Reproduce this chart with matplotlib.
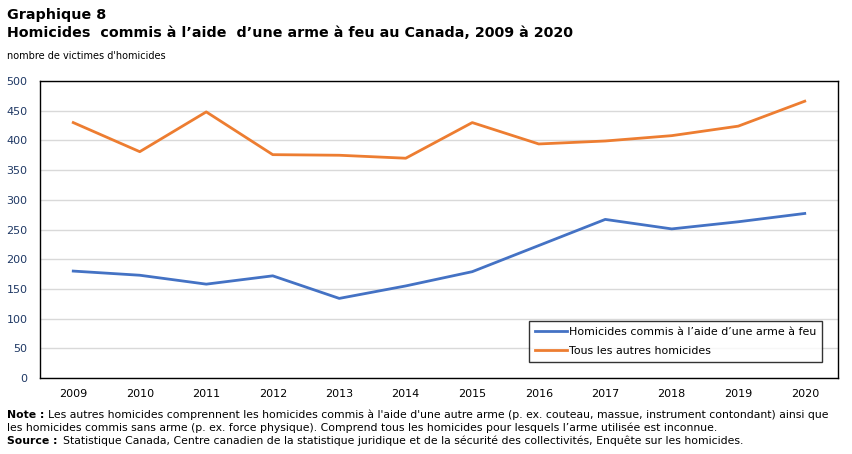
import matplotlib
matplotlib.use("Agg")
import matplotlib.pyplot as plt

# Data
years = ["2009", "2010", "2011", "2012", "2013", "2014",
         "2015", "2016", "2017", "2018", "2019", "2020"]
firearm = [180, 173, 158, 172, 134, 155, 179, 223, 267, 251, 263, 277]
other = [430, 381, 448, 376, 375, 370, 430, 394, 399, 408, 424, 466]
yticks = [0, 50, 100, 150, 200, 250, 300, 350, 400, 450, 500]

label_firearm = "Homicides commis à l\u2019aide d\u2019une arme à feu"
label_other = "Tous les autres homicides"

plt.rcParams["font.family"] = ["DejaVu Sans"]

fig = plt.figure(figsize=(8.52, 4.54), dpi=100)
W, H = 852, 454
ax = fig.add_axes([40 / W, 1 - 378 / H, (838 - 40) / W, (378 - 81) / H])

x = list(range(len(years)))
ax.plot(x, firearm, color="#4472C4", lw=2, label=label_firearm)
ax.plot(x, other, color="#ED7D31", lw=2, label=label_other)

ax.set_xlim(-0.5, len(years) - 0.5)
ax.set_ylim(0, 500)
ax.set_xticks(x)
ax.set_xticklabels(years)
ax.set_yticks(yticks)
ax.tick_params(axis="both", length=0, labelsize=8, colors="#000000")
ax.tick_params(axis="y", pad=9)
ax.tick_params(axis="x", pad=8)
for lbl in ax.get_yticklabels():
    lbl.set_color("#1F3864")
ax.grid(axis="y", color="#D9D9D9", lw=1)
ax.set_axisbelow(True)
for s in ax.spines.values():
    s.set_color("black")
    s.set_linewidth(1)

leg = ax.legend(loc="lower right", bbox_to_anchor=(0.98, 0.054), borderaxespad=0,
                fontsize=7.9, frameon=True, fancybox=False, handlelength=2.9,
                handletextpad=0.15, borderpad=0.55, labelspacing=0.8)
leg.get_frame().set_edgecolor("black")
leg.get_frame().set_linewidth(1)

fig.text(7 / W, 1 - 15 / H, "Graphique 8", fontsize=10.3, fontweight="bold", va="center")
fig.text(7 / W, 1 - 33 / H,
         "Homicides  commis à l\u2019aide  d\u2019une arme à feu au Canada, 2009 à 2020",
         fontsize=10.3, fontweight="bold", va="center")
fig.text(7 / W, 1 - 56 / H, "nombre de victimes d'homicides", fontsize=7, va="center")

fs = 7.8
note_y = 1 - 415 / H
fig.text(7 / W, note_y, "Note :", fontsize=fs, fontweight="bold", va="center")
fig.text(48 / W, note_y,
         "Les autres homicides comprennent les homicides commis à l'aide d'une autre arme "
         "(p. ex. couteau, massue, instrument contondant) ainsi que",
         fontsize=fs, va="center")
fig.text(7 / W, 1 - 428 / H,
         "les homicides commis sans arme (p. ex. force physique). Comprend tous les homicides "
         "pour lesquels l\u2019arme utilisée est inconnue.",
         fontsize=fs, va="center")
fig.text(7 / W, 1 - 441 / H, "Source :", fontsize=fs, fontweight="bold", va="center")
fig.text(63 / W, 1 - 441 / H,
         "Statistique Canada, Centre canadien de la statistique juridique et de la sécurité "
         "des collectivités, Enquête sur les homicides.",
         fontsize=fs, va="center")

fig.savefig("out.png", dpi=100)
